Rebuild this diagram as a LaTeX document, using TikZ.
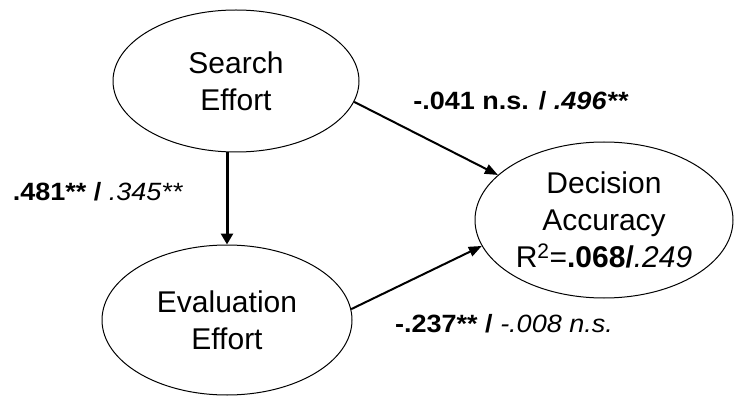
\documentclass[tikz,border=0pt]{standalone}
\usepackage{fontspec}
\setmainfont{Liberation Sans}
\newfontfamily\widefont[FakeStretch=1.08]{Liberation Sans}
\usetikzlibrary{shapes.geometric,arrows.meta}
\begin{document}
\begin{tikzpicture}[x=1pt,y=-1pt,
  construct/.style={draw=black,line width=1pt,ellipse,inner sep=0pt,align=center,
    font=\fontsize{30}{37}\selectfont},
  coef/.style={inner sep=0pt,font=\widefont\fontsize{25}{29}\selectfont},
  path/.style={line width=2pt,-{Triangle[length=13pt,width=10pt]}},
  mainpath/.style={line width=3pt,-{Triangle[length=11pt,width=12pt]}}]
\useasboundingbox (0,0) rectangle (734,401);
\fill[white] (0,0) rectangle (734,401);

% latent constructs
\node[construct,minimum width=246pt,minimum height=142pt] (search) at (236,81) {Search\\Effort};
\node[construct,minimum width=250pt,minimum height=150pt] (eval) at (227,320) {Evaluation\\Effort};
\node[construct,minimum width=258pt,minimum height=156pt] (dec) at (604,220)
  {Decision\\Accuracy\\R\textsuperscript{2}=\textbf{.068/}\textit{.249}};

% structural paths
\draw[mainpath] (eval.north |- search.south) -- (eval.north);
\draw[path] (search.-10) -- (dec.157);
\draw[path] (eval.5) -- (dec.192);

% path coefficients
\node[coef] (c1) at (98,192) {\textbf{.481** / }\textit{.345**}};
\node[coef] (c2) at (521,101) {\textbf{-.041 n.s. / \textit{.496**}}};
\node[coef] (c3) at (504,324) {\textbf{-.237** / }\textit{-.008 n.s.}};
\end{tikzpicture}
\end{document}
